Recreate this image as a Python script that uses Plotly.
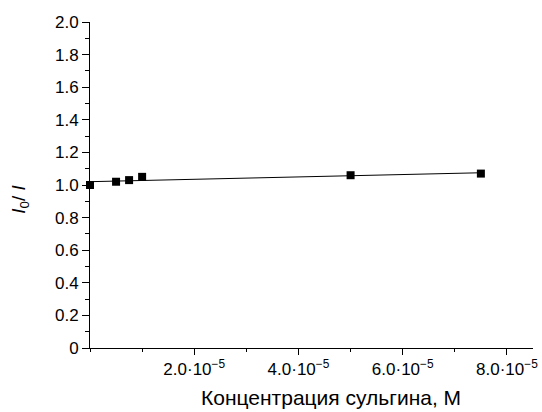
import numpy as np
import plotly.graph_objects as go

conc = [0.0, 0.5e-5, 0.75e-5, 1.0e-5, 5.0e-5, 7.5e-5]
ratio = [1.00, 1.02, 1.03, 1.05, 1.06, 1.07]
x_tickvals = [2e-5, 4e-5, 6e-5, 8e-5]
x_ticktext = ["2.0·10<sup>−5</sup>", "4.0·10<sup>−5</sup>", "6.0·10<sup>−5</sup>", "8.0·10<sup>−5</sup>"]
y_tickvals = [0, 0.2, 0.4, 0.6, 0.8, 1.0, 1.2, 1.4, 1.6, 1.8, 2.0]
y_ticktext = ["0", "0.2", "0.4", "0.6", "0.8", "1.0", "1.2", "1.4", "1.6", "1.8", "2.0"]

slope, intercept = np.polyfit(conc, ratio, 1)
fit_x = [conc[0], conc[-1]]
fit_y = [intercept + slope * v for v in fit_x]

font = "Liberation Sans, Arial, sans-serif"

fig = go.Figure()
fig.add_trace(go.Scatter(x=fit_x, y=fit_y, mode="lines",
                         line=dict(color="black", width=1), showlegend=False))
fig.add_trace(go.Scatter(x=conc, y=ratio, mode="markers",
                         marker=dict(symbol="square", size=8, color="black"),
                         showlegend=False, cliponaxis=False))

fig.add_annotation(
    text="<i>I</i><sub>0</sub>/ <i>I</i>", textangle=-90,
    xref="paper", yref="paper", x=-0.158, y=0.455,
    xanchor="center", yanchor="middle", showarrow=False,
    font=dict(family=font, size=19, color="black"),
)
fig.add_annotation(
    text="Концентрация сульгина, М",
    xref="paper", yref="paper", x=0.545, y=-0.153,
    xanchor="center", yanchor="middle", showarrow=False,
    font=dict(family=font, size=21, color="black"),
)

fig.update_layout(
    width=542, height=412,
    margin=dict(l=90, r=9, t=22, b=64, autoexpand=False),
    plot_bgcolor="white", paper_bgcolor="white",
    font=dict(family=font, size=17, color="black"),
    xaxis=dict(
        range=[0, 8.5e-5], showgrid=False, zeroline=False, automargin=False,
        showline=True, linecolor="black", linewidth=1,
        tickmode="array", tickvals=x_tickvals, ticktext=x_ticktext,
        ticks="outside", ticklen=6, tickwidth=1, tickcolor="black",
        tickfont=dict(family=font, size=17),
        minor=dict(tickmode="linear", tick0=0, dtick=1e-5, ticks="outside",
                   ticklen=3, tickcolor="black"),
    ),
    yaxis=dict(
        range=[0, 2.0], showgrid=False, zeroline=False, automargin=False,
        showline=True, linecolor="black", linewidth=1,
        tickmode="array", tickvals=y_tickvals, ticktext=y_ticktext,
        ticks="outside", ticklen=7, tickwidth=1, tickcolor="black",
        tickfont=dict(family=font, size=17),
        minor=dict(tickmode="linear", tick0=0, dtick=0.1, ticks="outside",
                   ticklen=4, tickcolor="black"),
    ),
)

fig.write_html("out.html")
